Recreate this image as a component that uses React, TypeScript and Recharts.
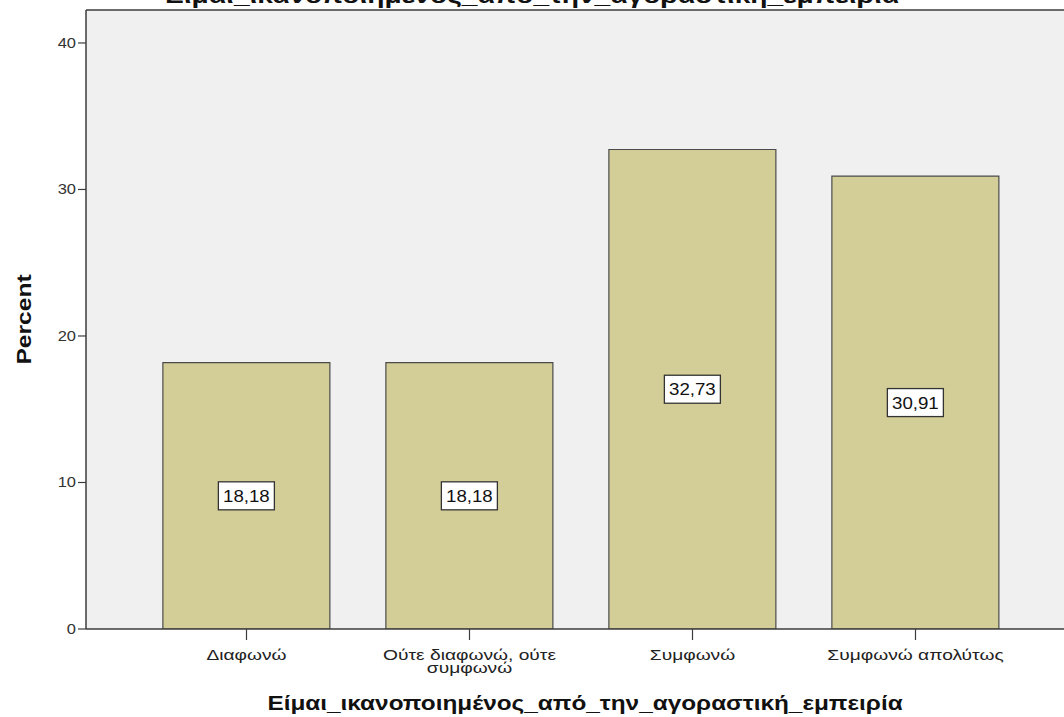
import React from "react";
import {
  BarChart,
  Bar,
  XAxis,
  YAxis,
  CartesianGrid,
  LabelList,
  Label,
  ReferenceLine,
  Text,
} from "recharts";

// Response categories and their percentages
const categories = [
  "Διαφωνώ",
  "Ούτε διαφωνώ, ούτε συμφωνώ",
  "Συμφωνώ",
  "Συμφωνώ απολύτως",
];
const percents = [18.18, 18.18, 32.73, 30.91];
const yTicks = [0, 10, 20, 30, 40];
const yMax = 42.25;

const title = "Είμαι_ικανοποιημένος_από_την_αγοραστική_εμπειρία";
const xTitle = "Είμαι_ικανοποιημένος_από_την_αγοραστική_εμπειρία";
const yTitle = "Percent";

const data = categories.map((name, i) => ({ name, value: percents[i] }));

const FONT = "'Liberation Sans', Arial, sans-serif";
const AXIS = "#3c3c3c";
// text in this chart style is drawn slightly widened
const STRETCH = 1.28;

const fmt = (v: number) => v.toFixed(2).replace(".", ",");

// Value box drawn at the vertical middle of each bar
const ValueBox = (props: any) => {
  const { x, y, width, height, value } = props;
  const cx = x + width / 2;
  const cy = y + height / 2;
  const w = 56;
  const h = 28;
  return (
    <g>
      <rect
        x={cx - w / 2}
        y={cy - h / 2}
        width={w}
        height={h}
        fill="#ffffff"
        stroke="#333"
        strokeWidth={1.3}
      />
      <text
        transform={`translate(${cx},${cy + 6}) scale(1.1,1)`}
        textAnchor="middle"
        fontFamily={FONT}
        fontSize={17}
        fill="#111"
      >
        {fmt(value)}
      </text>
    </g>
  );
};

const CategoryTick = (props: any) => {
  const { x, y, payload } = props;
  return (
    <g transform={`translate(${x},${y + 7}) scale(${STRETCH},1)`}>
      <Text
        x={0}
        y={0}
        width={150}
        textAnchor="middle"
        verticalAnchor="start"
        lineHeight="0.88em"
        fontFamily={FONT}
        fontSize={15}
        fill="#222"
      >
        {payload.value}
      </Text>
    </g>
  );
};

const ValueTick = (props: any) => {
  const { x, y, payload } = props;
  return (
    <text
      transform={`translate(${x},${y + 5}) scale(1.1,1)`}
      textAnchor="end"
      fontFamily={FONT}
      fontSize={15}
      fill="#333"
    >
      {payload.value}
    </text>
  );
};

const XTitle = (props: any) => {
  const { viewBox } = props;
  const cx = viewBox.x + viewBox.width / 2 + 10;
  return (
    <text
      transform={`translate(${cx},710) scale(1.16,1)`}
      textAnchor="middle"
      fontFamily={FONT}
      fontWeight="bold"
      fontSize={21}
      fill="#111"
    >
      {xTitle}
    </text>
  );
};

const YTitle = (props: any) => {
  const { viewBox } = props;
  const cy = viewBox.y + viewBox.height / 2;
  return (
    <text
      transform={`translate(31,${cy}) rotate(-90) scale(1.23,1)`}
      textAnchor="middle"
      fontFamily={FONT}
      fontWeight="bold"
      fontSize={20}
      fill="#111"
    >
      {yTitle}
    </text>
  );
};

export default function App() {
  return (
    <div
      style={{
        position: "absolute",
        left: 0,
        top: 0,
        width: 1064,
        height: 717,
        background: "#ffffff",
        overflow: "hidden",
      }}
    >
      <BarChart
        width={1064}
        height={717}
        data={data}
        margin={{ top: 10, right: 0, bottom: 0, left: 0 }}
        barCategoryGap="12.5%"
      >
        <CartesianGrid
          horizontal={false}
          vertical={false}
          fill="#f0f0f0"
          fillOpacity={1}
        />
        <ReferenceLine y={yMax} stroke={AXIS} strokeWidth={1.5} ifOverflow="extendDomain" />
        <XAxis
          dataKey="name"
          height={88}
          padding={{ left: 49, right: 37 }}
          axisLine={{ stroke: AXIS, strokeWidth: 1.5 }}
          tickLine={{ stroke: AXIS, strokeWidth: 1.2 }}
          tickSize={11}
          interval={0}
          tick={<CategoryTick />}
        >
          <Label content={<XTitle />} />
        </XAxis>
        <YAxis
          width={86}
          domain={[0, yMax]}
          ticks={yTicks}
          allowDataOverflow
          axisLine={{ stroke: AXIS, strokeWidth: 1.5 }}
          tickLine={{ stroke: AXIS, strokeWidth: 1.2 }}
          tickSize={8}
          tick={<ValueTick />}
        >
          <Label content={<YTitle />} />
        </YAxis>
        <Bar
          dataKey="value"
          fill="#d3ce97"
          stroke="#4a4a4a"
          strokeWidth={1.2}
          isAnimationActive={false}
        >
          <LabelList dataKey="value" content={<ValueBox />} />
        </Bar>
      </BarChart>
      <svg
        width={1064}
        height={20}
        style={{ position: "absolute", left: 0, top: 0 }}
      >
        <text
          transform={`translate(532,3) scale(${STRETCH},1)`}
          textAnchor="middle"
          fontFamily={FONT}
          fontWeight="bold"
          fontSize={22}
          fill="#111"
        >
          {title}
        </text>
      </svg>
    </div>
  );
}
